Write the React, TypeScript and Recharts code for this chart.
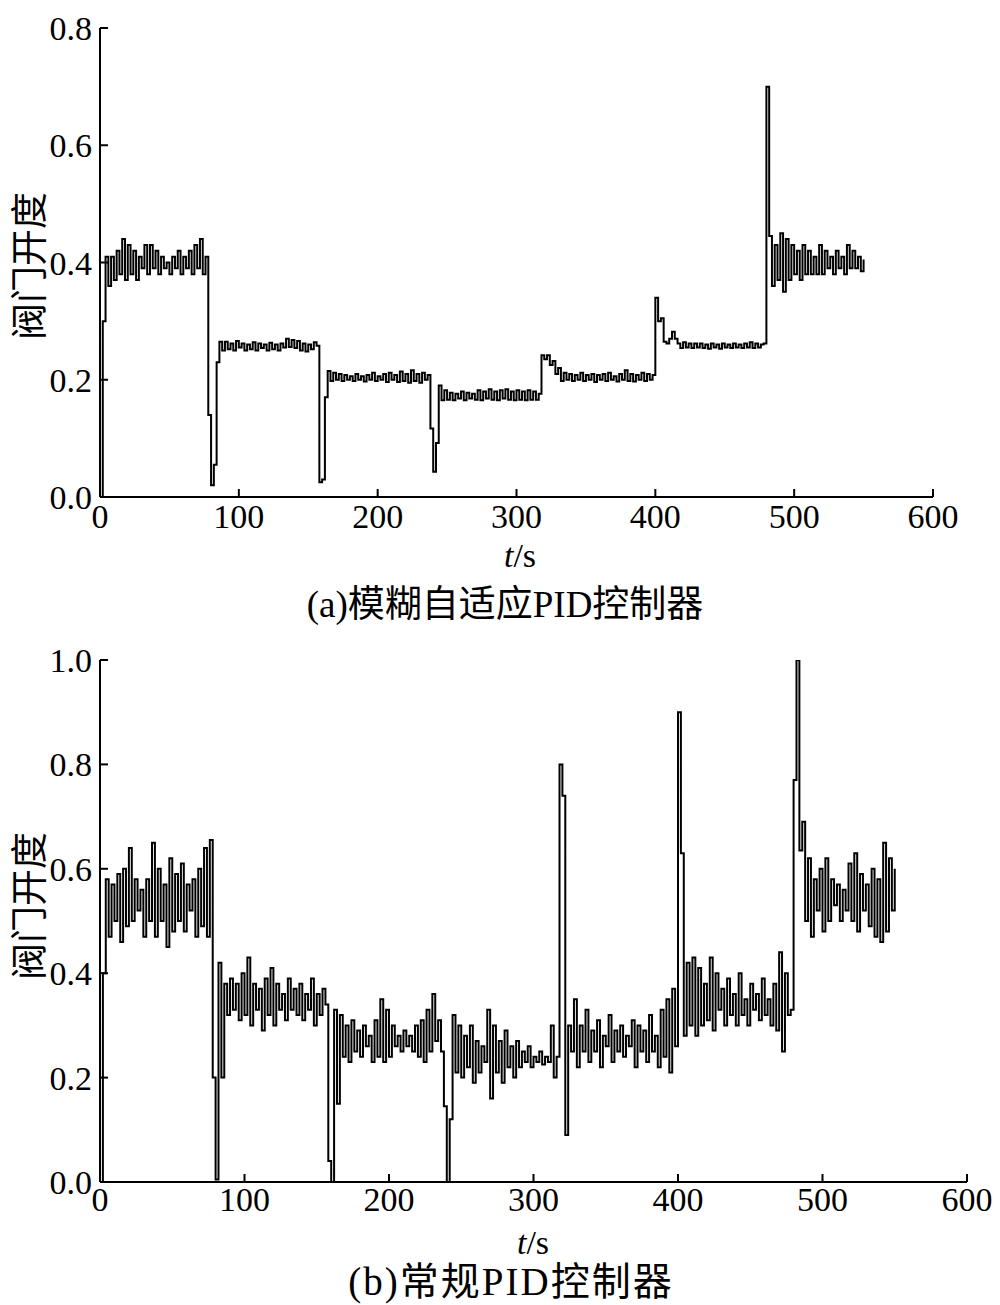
import React from 'react';
import { LineChart, Line, XAxis, YAxis } from 'recharts';

// sampling step of the logged valve signal (s)
const SAMPLE_DT = 2;

// (a) fuzzy adaptive PID - valve opening, one array per setpoint segment
const fuzzySeg1 = [0, 0.30, 0.41, 0.36, 0.41, 0.37, 0.42, 0.38, 0.44, 0.37, 0.43, 0.38, 0.42, 0.37, 0.41, 0.39, 0.43, 0.38, 0.43, 0.39,
  0.42, 0.38, 0.41, 0.39, 0.40, 0.38, 0.41, 0.39, 0.42, 0.38, 0.41, 0.39, 0.42, 0.38, 0.43, 0.39, 0.44, 0.38, 0.41];
const fuzzySeg2 = [0.14, 0.02, 0.055, 0.23, 0.265, 0.25, 0.265, 0.252, 0.262, 0.25, 0.266, 0.255, 0.262, 0.25, 0.26, 0.252, 0.264, 0.25, 0.262, 0.254,
  0.26, 0.25, 0.263, 0.252, 0.26, 0.25, 0.262, 0.255, 0.27, 0.256, 0.268, 0.254, 0.266, 0.25, 0.262, 0.248, 0.26, 0.252, 0.264, 0.258];
const fuzzySeg3 = [0.025, 0.03, 0.17, 0.215, 0.198, 0.212, 0.2, 0.21, 0.198, 0.208, 0.2, 0.206, 0.198, 0.21, 0.2, 0.206, 0.197, 0.208, 0.2, 0.212,
  0.198, 0.206, 0.2, 0.21, 0.196, 0.212, 0.2, 0.208, 0.196, 0.214, 0.198, 0.21, 0.195, 0.216, 0.198, 0.21, 0.195, 0.212, 0.2, 0.208];
const fuzzySeg4 = [0.117, 0.043, 0.092, 0.19, 0.165, 0.182, 0.166, 0.178, 0.165, 0.176, 0.168, 0.18, 0.165, 0.178, 0.168, 0.176, 0.166, 0.182, 0.165, 0.18,
  0.168, 0.184, 0.166, 0.18, 0.165, 0.182, 0.168, 0.184, 0.166, 0.18, 0.165, 0.182, 0.166, 0.18, 0.165, 0.182, 0.166, 0.18, 0.166, 0.176];
const fuzzySeg5 = [0.242, 0.235, 0.242, 0.225, 0.232, 0.21, 0.22, 0.198, 0.212, 0.2, 0.21, 0.198, 0.208, 0.2, 0.212, 0.198, 0.208, 0.2, 0.21, 0.196,
  0.208, 0.2, 0.21, 0.198, 0.212, 0.2, 0.206, 0.197, 0.21, 0.2, 0.216, 0.198, 0.21, 0.197, 0.208, 0.2, 0.212, 0.198, 0.21, 0.2, 0.208];
const fuzzySeg6 = [0.34, 0.30, 0.305, 0.265, 0.262, 0.27, 0.282, 0.27, 0.262, 0.254, 0.264, 0.255, 0.262, 0.254, 0.262, 0.255, 0.262, 0.254, 0.26, 0.253,
  0.262, 0.255, 0.26, 0.253, 0.262, 0.255, 0.26, 0.254, 0.262, 0.255, 0.26, 0.254, 0.262, 0.255, 0.264, 0.254, 0.262, 0.255, 0.26, 0.262];
const fuzzySeg7 = [0.70, 0.445, 0.36, 0.43, 0.37, 0.45, 0.35, 0.44, 0.37, 0.43, 0.38, 0.42, 0.37, 0.43, 0.38, 0.42, 0.38, 0.41, 0.38, 0.43,
  0.38, 0.42, 0.39, 0.41, 0.38, 0.42, 0.39, 0.41, 0.38, 0.43, 0.39, 0.42, 0.39, 0.41, 0.385, 0.405];

// (b) conventional PID - valve opening
const pidSeg1 = [0, 0.40, 0.58, 0.47, 0.57, 0.50, 0.59, 0.46, 0.60, 0.49, 0.64, 0.50, 0.58, 0.52, 0.56, 0.47, 0.58, 0.50, 0.65, 0.47,
  0.60, 0.50, 0.57, 0.45, 0.62, 0.48, 0.59, 0.50, 0.61, 0.48, 0.57, 0.52, 0.58, 0.47, 0.60, 0.49, 0.64, 0.47, 0.655];
const pidSeg2 = [0.20, 0.005, 0.42, 0.20, 0.38, 0.32, 0.39, 0.33, 0.38, 0.31, 0.40, 0.32, 0.43, 0.30, 0.38, 0.33, 0.37, 0.29, 0.39, 0.32,
  0.41, 0.30, 0.38, 0.33, 0.36, 0.31, 0.39, 0.33, 0.37, 0.32, 0.38, 0.31, 0.36, 0.33, 0.39, 0.30, 0.36, 0.32, 0.37, 0.34];
const pidSeg3 = [0.04, 0, 0.33, 0.15, 0.32, 0.24, 0.30, 0.23, 0.31, 0.25, 0.29, 0.24, 0.30, 0.26, 0.28, 0.23, 0.31, 0.24, 0.35, 0.23,
  0.33, 0.24, 0.30, 0.26, 0.28, 0.25, 0.29, 0.26, 0.28, 0.25, 0.30, 0.24, 0.31, 0.23, 0.33, 0.25, 0.36, 0.27, 0.31, 0.25];
const pidSeg4 = [0.145, 0, 0.12, 0.32, 0.21, 0.30, 0.20, 0.28, 0.22, 0.30, 0.19, 0.27, 0.21, 0.26, 0.23, 0.33, 0.16, 0.30, 0.21, 0.27,
  0.19, 0.29, 0.22, 0.26, 0.20, 0.27, 0.22, 0.25, 0.23, 0.26, 0.22, 0.24, 0.23, 0.25, 0.225, 0.24, 0.23, 0.30, 0.20, 0.24];
const pidSeg5 = [0.80, 0.74, 0.09, 0.30, 0.25, 0.35, 0.22, 0.30, 0.25, 0.33, 0.23, 0.29, 0.25, 0.31, 0.22, 0.28, 0.26, 0.32, 0.23, 0.29,
  0.25, 0.30, 0.24, 0.28, 0.26, 0.31, 0.22, 0.30, 0.25, 0.29, 0.23, 0.32, 0.25, 0.28, 0.22, 0.33, 0.24, 0.35, 0.21, 0.37, 0.26];
const pidSeg6 = [0.90, 0.63, 0.28, 0.42, 0.30, 0.43, 0.28, 0.41, 0.30, 0.38, 0.31, 0.43, 0.29, 0.40, 0.33, 0.37, 0.30, 0.39, 0.32, 0.36,
  0.30, 0.40, 0.32, 0.35, 0.30, 0.38, 0.33, 0.36, 0.31, 0.39, 0.32, 0.35, 0.30, 0.38, 0.29, 0.44, 0.25, 0.40, 0.32, 0.33];
const pidSeg7 = [0.77, 1.0, 0.635, 0.69, 0.50, 0.62, 0.47, 0.58, 0.52, 0.60, 0.48, 0.62, 0.50, 0.58, 0.53, 0.57, 0.50, 0.56, 0.52, 0.61,
  0.50, 0.63, 0.48, 0.59, 0.52, 0.57, 0.49, 0.60, 0.47, 0.58, 0.46, 0.65, 0.48, 0.62, 0.52, 0.60];

const fuzzyValues = [...fuzzySeg1, ...fuzzySeg2, ...fuzzySeg3, ...fuzzySeg4, ...fuzzySeg5, ...fuzzySeg6, ...fuzzySeg7];
const pidValues = [...pidSeg1, ...pidSeg2, ...pidSeg3, ...pidSeg4, ...pidSeg5, ...pidSeg6, ...pidSeg7];

const xTicks = [0, 100, 200, 300, 400, 500, 600];
const fuzzyYTicks = [0, 0.2, 0.4, 0.6, 0.8];
const pidYTicks = [0, 0.2, 0.4, 0.6, 0.8, 1.0];

const yLabel = '阀门开度';
const captionA = ['(a)', '模糊自适应', 'PID', '控制器'];
const captionB = ['(b)', '常规', 'PID', '控制器'];

const toRows = (vals: number[]) => vals.map((v, i) => ({ t: i * SAMPLE_DT, v }));

const SERIF = '"Liberation Serif", "Times New Roman", serif';
const CJK = '"Noto Sans CJK SC", sans-serif';
const tickStyle = { fontSize: 34, fill: '#000', fontFamily: SERIF };

interface PanelProps {
  top: number;
  width: number;
  height: number;
  margin: { top: number; right: number; bottom: number; left: number };
  values: number[];
  yMax: number;
  yTicks: number[];
  xTickMargin: number;
}

function Panel({ top, width, height, margin, values, yMax, yTicks, xTickMargin }: PanelProps) {
  return (
    <div style={{ position: 'absolute', left: 0, top }}>
      <LineChart width={width} height={height} data={toRows(values)} margin={margin}>
        <XAxis
          type="number"
          dataKey="t"
          domain={[0, 600]}
          ticks={xTicks}
          height={60}
          tickSize={-8}
          tickMargin={xTickMargin}
          axisLine={{ stroke: '#000', strokeWidth: 2 }}
          tickLine={{ stroke: '#000', strokeWidth: 2 }}
          tick={tickStyle}
        />
        <YAxis
          type="number"
          domain={[0, yMax]}
          ticks={yTicks}
          allowDataOverflow
          width={80}
          tickSize={-8}
          tickMargin={16}
          tickFormatter={(v: number) => v.toFixed(1)}
          axisLine={{ stroke: '#000', strokeWidth: 2 }}
          tickLine={{ stroke: '#000', strokeWidth: 2 }}
          tick={tickStyle}
        />
        <Line
          type="stepAfter"
          dataKey="v"
          stroke="#000"
          strokeWidth={2}
          dot={false}
          isAnimationActive={false}
        />
      </LineChart>
    </div>
  );
}

function YTitle({ cx, cy }: { cx: number; cy: number }) {
  return (
    <div
      style={{
        position: 'absolute',
        left: cx,
        top: cy,
        transform: 'translate(-50%, -50%) rotate(-90deg)',
        fontFamily: CJK,
        fontSize: 37,
        whiteSpace: 'nowrap',
        lineHeight: 1,
      }}
    >
      {yLabel}
    </div>
  );
}

function XTitle({ cx, cy }: { cx: number; cy: number }) {
  return (
    <div
      style={{
        position: 'absolute',
        left: cx,
        top: cy,
        transform: 'translate(-50%, -50%)',
        fontFamily: SERIF,
        fontSize: 34,
        whiteSpace: 'nowrap',
        lineHeight: 1,
      }}
    >
      <i>t</i>/s
    </div>
  );
}

function Caption({ cx, cy, parts, size, spacing }: { cx: number; cy: number; parts: string[]; size: number; spacing: number }) {
  return (
    <div
      style={{
        position: 'absolute',
        left: cx,
        top: cy,
        transform: 'translate(-50%, -50%)',
        fontSize: size,
        letterSpacing: spacing,
        whiteSpace: 'nowrap',
        lineHeight: 1,
      }}
    >
      <span style={{ fontFamily: SERIF }}>{parts[0]}</span>
      <span style={{ fontFamily: CJK }}>{parts[1]}</span>
      <span style={{ fontFamily: SERIF }}>{parts[2]}</span>
      <span style={{ fontFamily: CJK }}>{parts[3]}</span>
    </div>
  );
}

export default function App() {
  return (
    <div style={{ position: 'absolute', left: 0, top: 0, width: 1000, height: 1305, background: '#fff' }}>
      <Panel
        top={0}
        width={1000}
        height={600}
        margin={{ top: 28, right: 67, bottom: 43, left: 20 }}
        values={fuzzyValues}
        yMax={0.8}
        yTicks={fuzzyYTicks}
        xTickMargin={15}
      />
      <YTitle cx={27} cy={266} />
      <XTitle cx={520} cy={556} />
      <Caption cx={505} cy={603} parts={captionA} size={37} spacing={0} />

      <Panel
        top={620}
        width={1000}
        height={685}
        margin={{ top: 40, right: 33, bottom: 63, left: 20 }}
        values={pidValues}
        yMax={1.0}
        yTicks={pidYTicks}
        xTickMargin={13}
      />
      <YTitle cx={27} cy={906} />
      <XTitle cx={533} cy={1243} />
      <Caption cx={511} cy={1280} parts={captionB} size={39} spacing={2} />
    </div>
  );
}
